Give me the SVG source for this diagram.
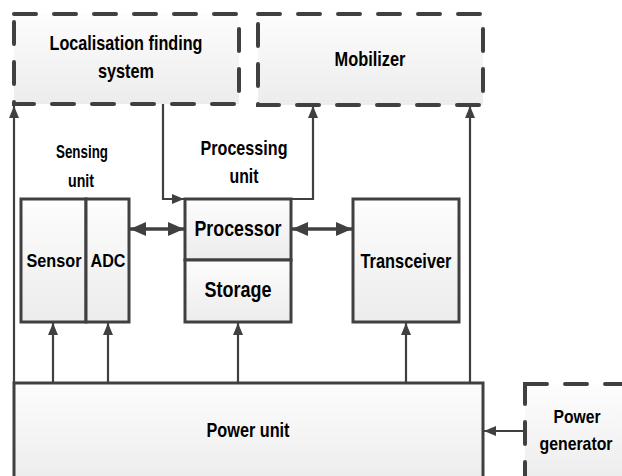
<svg xmlns="http://www.w3.org/2000/svg" width="622" height="476" viewBox="0 0 622 476">
  <defs>
    <linearGradient id="boxFill" x1="0" y1="0" x2="0" y2="1">
      <stop offset="0" stop-color="#fdfdfd"/>
      <stop offset="1" stop-color="#ececec"/>
    </linearGradient>
    <marker id="arrow" viewBox="0 0 12 10" refX="12" refY="5" markerWidth="12" markerHeight="10" markerUnits="userSpaceOnUse" orient="auto-start-reverse">
      <path d="M0,0 L12,5 L0,10 Z" fill="#404040"/>
    </marker>
    <marker id="arrowBig" viewBox="0 0 16 14" refX="16" refY="7" markerWidth="16" markerHeight="14" markerUnits="userSpaceOnUse" orient="auto-start-reverse">
      <path d="M0,0 L16,7 L0,14 Z" fill="#404040"/>
    </marker>
  </defs>
  <style>
    .box { fill: url(#boxFill); stroke: #404040; stroke-width: 3; }
    .dash { fill: url(#boxFill); stroke: #404040; stroke-width: 4; stroke-dasharray: 22 18; stroke-linecap: round; }
    .wire { fill: none; stroke: #404040; stroke-width: 2.2; }
    .thick { fill: none; stroke: #404040; stroke-width: 3.5; }
    text { font-family: "Liberation Sans", Arial, sans-serif; font-weight: bold; fill: #000; text-anchor: middle; }
    .lbl { font-size: 20.5px; }
    .mid { font-size: 19px; }
    .big { font-size: 22px; }
    .small { font-size: 17.5px; }
  </style>

  <!-- connectors -->
  <g id="connectors">
    <!-- power unit feeds upward -->
    <line class="wire" x1="14" y1="383" x2="14" y2="106" marker-end="url(#arrow)"/>
    <line class="wire" x1="470" y1="383" x2="470" y2="106" marker-end="url(#arrow)"/>
    <line class="wire" x1="53" y1="383" x2="53" y2="323" marker-end="url(#arrow)"/>
    <line class="wire" x1="108" y1="383" x2="108" y2="323" marker-end="url(#arrow)"/>
    <line class="wire" x1="238" y1="383" x2="238" y2="323" marker-end="url(#arrow)"/>
    <line class="wire" x1="406" y1="383" x2="406" y2="323" marker-end="url(#arrow)"/>
    <!-- localisation to processor, processor to mobilizer -->
    <polyline class="wire" points="163,104 163,199 184,199" marker-end="url(#arrow)"/>
    <polyline class="wire" points="291,199 313,199 313,106" marker-end="url(#arrow)"/>
    <!-- bidirectional data links -->
    <line class="thick" x1="130" y1="229" x2="184" y2="229" marker-start="url(#arrowBig)" marker-end="url(#arrowBig)"/>
    <line class="thick" x1="292" y1="229" x2="352" y2="229" marker-start="url(#arrowBig)" marker-end="url(#arrowBig)"/>
    <!-- generator to power unit -->
    <polyline class="wire" points="525,431 500,431 484,431" marker-end="url(#arrow)"/>
  </g>

  <g id="localisation">
    <rect class="dash" x="14" y="14" width="225" height="90"/>
    <text class="lbl" x="126" y="50" textLength="153" lengthAdjust="spacingAndGlyphs">Localisation finding</text>
    <text class="lbl" x="126" y="78" textLength="56" lengthAdjust="spacingAndGlyphs">system</text>
  </g>

  <g id="mobilizer">
    <rect class="dash" x="258" y="14" width="225" height="91"/>
    <text class="lbl" x="370" y="66" textLength="71" lengthAdjust="spacingAndGlyphs">Mobilizer</text>
  </g>

  <g id="sensing-unit">
    <text class="small" x="82" y="158" textLength="52" lengthAdjust="spacingAndGlyphs">Sensing</text>
    <text class="small" x="81" y="187" textLength="26" lengthAdjust="spacingAndGlyphs">unit</text>
  </g>

  <g id="processing-unit">
    <text class="lbl" x="244" y="155" textLength="87" lengthAdjust="spacingAndGlyphs">Processing</text>
    <text class="lbl" x="244" y="183" textLength="29" lengthAdjust="spacingAndGlyphs">unit</text>
  </g>

  <g id="sensor">
    <rect class="box" x="21" y="199" width="65" height="123"/>
    <text class="mid" x="54" y="267" textLength="55" lengthAdjust="spacingAndGlyphs">Sensor</text>
  </g>

  <g id="adc">
    <rect class="box" x="86" y="199" width="43" height="123"/>
    <text class="mid" x="108" y="267" textLength="35" lengthAdjust="spacingAndGlyphs">ADC</text>
  </g>

  <g id="processor">
    <rect class="box" x="185" y="199" width="106" height="61"/>
    <text class="big" x="238" y="236" textLength="87" lengthAdjust="spacingAndGlyphs">Processor</text>
  </g>

  <g id="storage">
    <rect class="box" x="185" y="260" width="106" height="62"/>
    <text class="big" x="238" y="297" textLength="67" lengthAdjust="spacingAndGlyphs">Storage</text>
  </g>

  <g id="transceiver">
    <rect class="box" x="353" y="199" width="106" height="123"/>
    <text class="lbl" x="406" y="268" textLength="91" lengthAdjust="spacingAndGlyphs">Transceiver</text>
  </g>

  <g id="power-unit">
    <rect class="box" x="14" y="383" width="469" height="100"/>
    <text class="lbl" x="248" y="437" textLength="83" lengthAdjust="spacingAndGlyphs">Power unit</text>
  </g>

  <g id="power-generator">
    <rect class="dash" x="525" y="384" width="110" height="100"/>
    <text class="mid" x="577" y="423" textLength="47" lengthAdjust="spacingAndGlyphs">Power</text>
    <text class="mid" x="576" y="450" textLength="73" lengthAdjust="spacingAndGlyphs">generator</text>
  </g>
</svg>
